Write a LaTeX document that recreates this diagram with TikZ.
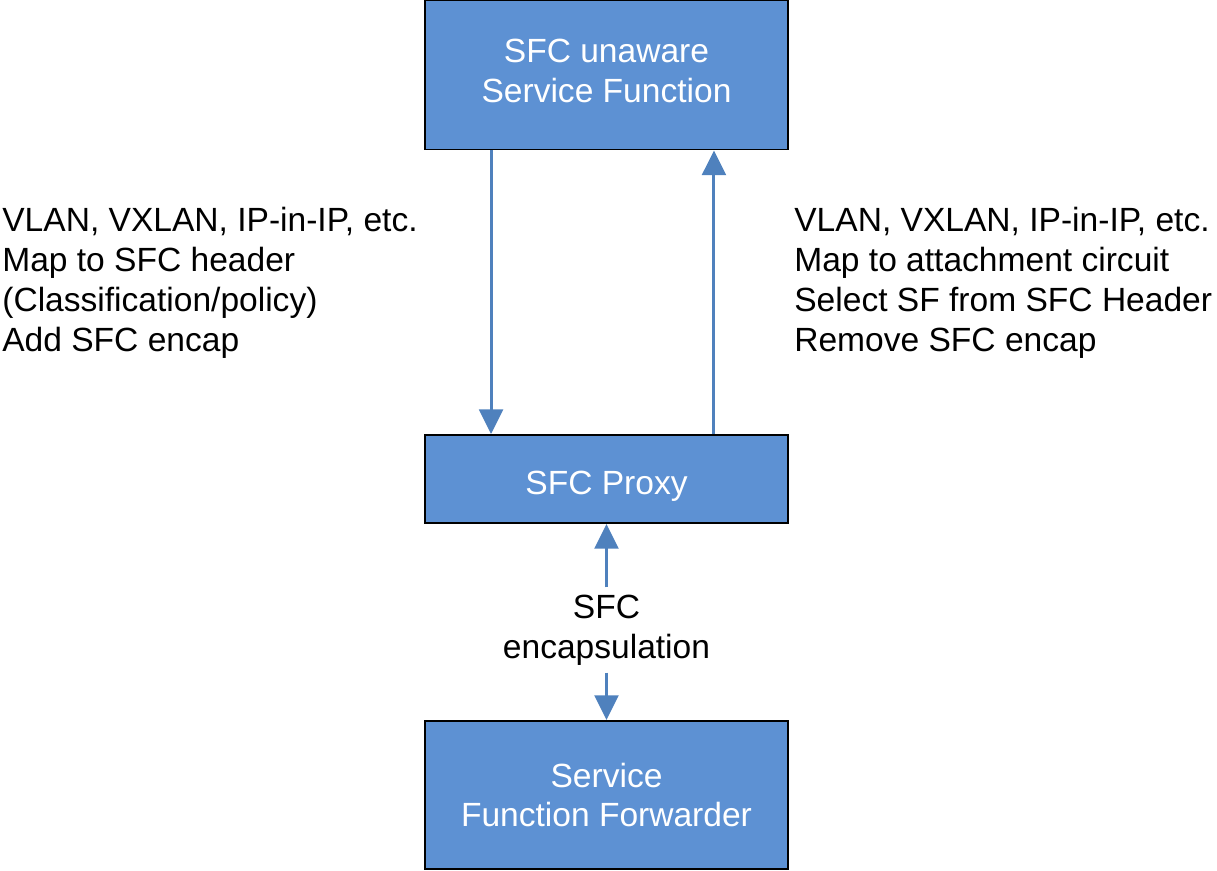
\documentclass[tikz,border=0pt]{standalone}
\usepackage{fontspec}
\setmainfont{Liberation Sans}
\usetikzlibrary{arrows.meta}
\definecolor{boxblue}{RGB}{93,145,211}
\definecolor{arrowblue}{RGB}{79,129,189}

\begin{document}
\begin{tikzpicture}[x=0.02cm, y=-0.02cm,
    box/.style={draw=black, line width=1.1pt, fill=boxblue, text=white,
        minimum width=7.26cm, align=center, inner sep=0pt,
        font=\fontsize{19.1}{22.7}\selectfont},
    note/.style={align=left, anchor=west, inner sep=0pt,
        font=\fontsize{19.1}{22.7}\selectfont},
    flow/.style={draw=arrowblue, line width=1.7pt,
        -{Triangle[length=14pt, width=13.5pt]}}]
    \def\dl{-2.31cm}   % down arrow offset from centre
    \def\dr{2.15cm}    % up arrow offset from centre
    % Fix the page size
    \useasboundingbox (0,0) rectangle (1217,871);
    % Draw the boxes
    \node[box, minimum height=2.98cm, text depth=4.5pt] (sf) at (606.5,75) {SFC unaware\\Service Function};
    \node[box, minimum height=1.76cm, text height=18pt, text depth=0pt] (proxy) at (606.5,479) {SFC Proxy};
    \node[box, minimum height=2.96cm] (sff) at (606.5,795) {Service\\Function Forwarder};
    % Draw the arrows between SF and proxy
    \draw[flow] ([xshift=\dl]sf.south) -- ([xshift=\dl]proxy.north);
    \draw[flow] ([xshift=\dr]proxy.north) -- ([xshift=\dr]sf.south);
    % Draw the side notes
    \node[note] (left) at (2,283) {VLAN, VXLAN, IP-in-IP, etc.\\Map to SFC header\\(Classification/policy)\\Add SFC encap};
    \node[note] (right) at (794,283) {VLAN, VXLAN, IP-in-IP, etc.\\Map to attachment circuit\\Select SF from SFC Header\\Remove SFC encap};
    % Draw the encapsulation link
    \node[note, anchor=center, align=center, inner sep=4pt] (enc) at (606.5,630) {SFC\\encapsulation};
    \draw[flow] (enc.north) -- (proxy.south);
    \draw[flow] (enc.south) -- (sff.north);
\end{tikzpicture}
\end{document}
